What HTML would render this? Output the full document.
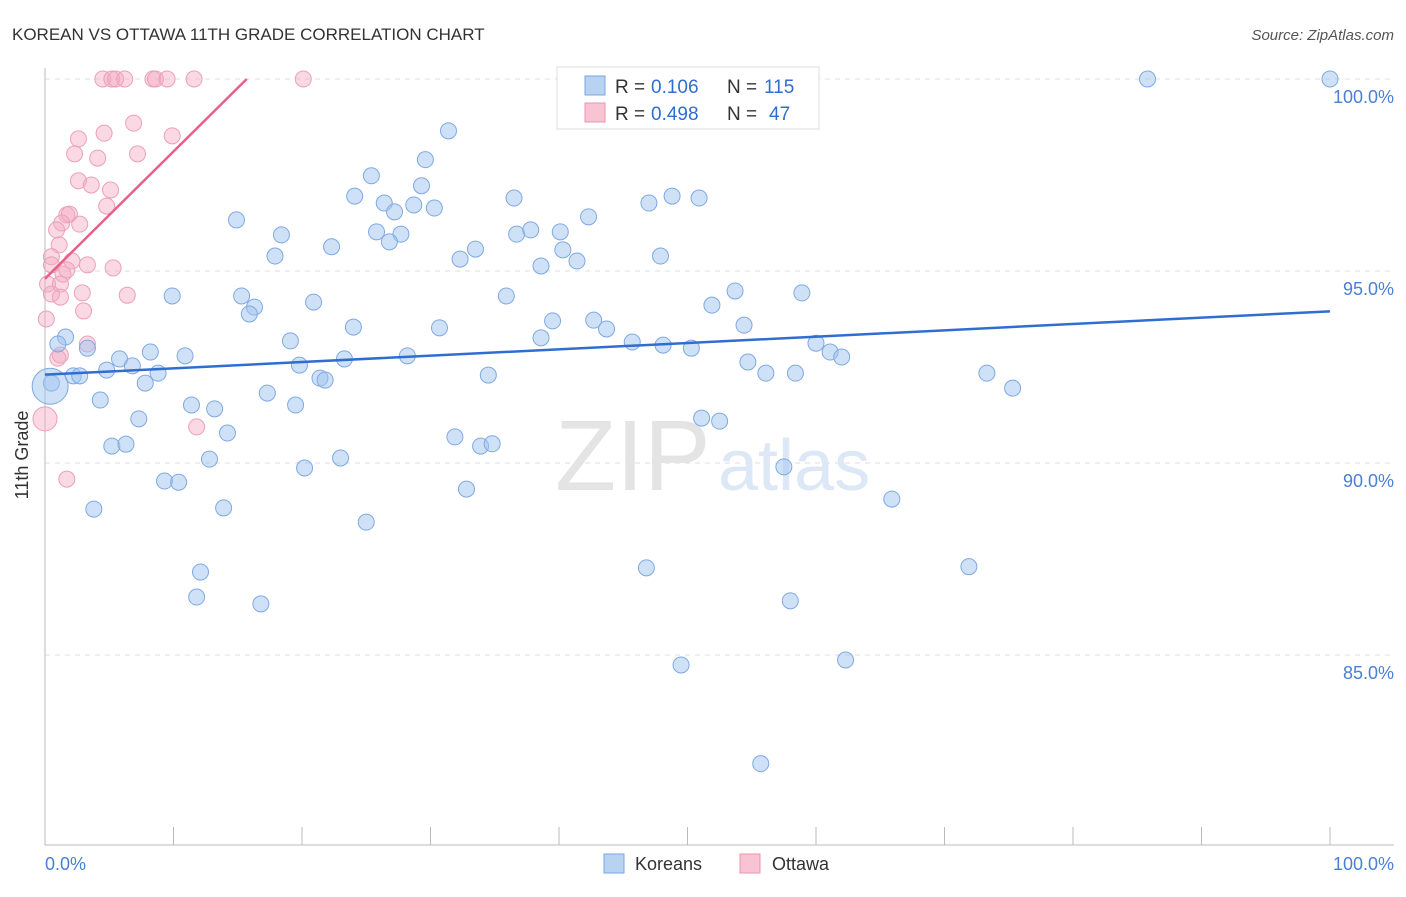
<!DOCTYPE html>
<html><head><meta charset="utf-8"><style>
body{margin:0;background:#fff;font-family:"Liberation Sans",sans-serif}
svg text{font-family:"Liberation Sans",sans-serif}
</style></head><body>
<svg width="1406" height="892" viewBox="0 0 1406 892">
<text x="12" y="40" font-size="17" fill="#333">KOREAN VS OTTAWA 11TH GRADE CORRELATION CHART</text>
<text x="1394" y="40" font-size="15" fill="#555" font-style="italic" text-anchor="end">Source: ZipAtlas.com</text>
<g id="grid"></g>
<text x="555" y="490" font-size="100" fill="#e4e4e4" font-family="Liberation Serif">ZIP</text>
<text x="718" y="490" font-size="72" fill="#dde8f6">atlas</text>
<g id="pts"></g>
<g id="lines"></g>
<text x="28" y="455" font-size="18" fill="#333" transform="rotate(-90 28 455)" text-anchor="middle">11th Grade</text>
<text x="45" y="870" font-size="18" fill="#4a7fd6">0.0%</text>
<text x="1394" y="870" font-size="18" fill="#4a7fd6" text-anchor="end">100.0%</text>
<g>
<rect x="557" y="67" width="262" height="62" fill="#fff" stroke="#ddd"/>
<rect x="585" y="76" width="20" height="19" fill="#b8d2f2" stroke="#7aa6e0"/>
<rect x="585" y="103" width="20" height="19" fill="#f8c3d2" stroke="#eb93ad"/>
<text y="93" font-size="19" fill="#333"><tspan x="615">R =</tspan><tspan x="651" fill="#2f6ed0">0.106</tspan><tspan x="727">N =</tspan><tspan x="764" fill="#2f6ed0">115</tspan></text>
<text y="120" font-size="19" fill="#333"><tspan x="615">R =</tspan><tspan x="651" fill="#2f6ed0">0.498</tspan><tspan x="727">N =</tspan><tspan x="769" fill="#2f6ed0">47</tspan></text>
</g>
<g>
<rect x="604" y="854" width="20" height="19" fill="#b8d2f2" stroke="#7aa6e0"/>
<text x="635" y="870" font-size="18" fill="#333">Koreans</text>
<rect x="740" y="854" width="20" height="19" fill="#f8c3d2" stroke="#eb93ad"/>
<text x="772" y="870" font-size="18" fill="#333">Ottawa</text>
</g>
</svg>
<script>
const yTicks=[100,95,90,85];
const xTickCount=10;
const blueX=[40.9,85.8,100,31.4,29.6,25.4,29.3,24.1,36.5,47,48.8,50.9,26.4,28.7,14.9,30.3,27.2,42.3,18.4,25.8,27.7,36.7,37.8,40.1,26.8,22.3,40.3,17.9,32.3,33.5,41.4,47.9,38.6,9.9,15.3,20.9,35.9,16.3,51.9,53.7,58.9,15.9,24,30.7,39.5,42.7,43.7,54.4,38.6,45.7,48.1,50.3,60,19.1,1.6,1,3.3,8.2,10.9,5.8,6.8,4.8,19.8,23.3,28.2,61.1,62,54.7,56.1,58.4,8.8,2.2,2.7,7.8,21.4,21.8,34.5,73.3,75.3,0.5,17.3,4.3,11.4,19.5,13.2,7.3,51.1,52.5,14.2,31.9,33.9,34.8,5.2,6.3,12.8,23,20.2,57.5,9.3,10.4,32.8,65.9,3.8,13.9,25,12.1,46.8,71.9,11.8,16.8,58,49.5,62.3,55.7,0.4];
const blueY=[100,100,100,98.65,97.9,97.48,97.22,96.95,96.9,96.77,96.95,96.9,96.77,96.72,96.33,96.64,96.54,96.41,95.94,96.02,95.96,95.96,96.07,96.02,95.76,95.63,95.55,95.39,95.31,95.57,95.26,95.39,95.13,94.35,94.35,94.19,94.35,94.06,94.11,94.48,94.43,93.88,93.54,93.52,93.7,93.72,93.49,93.59,93.26,93.15,93.07,92.99,93.12,93.18,93.28,93.1,92.99,92.89,92.79,92.71,92.53,92.42,92.55,92.71,92.79,92.89,92.76,92.63,92.34,92.34,92.34,92.27,92.27,92.08,92.21,92.16,92.29,92.34,91.95,92.08,91.82,91.64,91.51,91.51,91.41,91.15,91.17,91.09,90.78,90.68,90.44,90.5,90.44,90.49,90.1,90.13,89.87,89.9,89.53,89.5,89.32,89.06,88.8,88.83,88.46,87.16,87.27,87.3,86.51,86.33,86.41,84.74,84.87,82.17,92.0];
const pinkX=[4.5,5.2,5.5,6.2,8.4,8.6,9.5,11.6,20.1,6.9,4.6,2.6,9.9,2.3,4.1,7.2,2.6,3.6,5.1,4.8,1.7,1.9,2.7,1.3,0.9,1.1,0.5,0.5,2.1,3.3,5.3,1.4,1.7,0.2,1.2,2.9,0.5,1.2,6.4,3,0.1,3.3,1.2,1,11.8,1.7,0];
const pinkY=[100,100,100,100,100,100,100,100,100,98.85,98.59,98.44,98.52,98.05,97.94,98.05,97.35,97.24,97.11,96.69,96.46,96.48,96.22,96.25,96.07,95.68,95.37,95.16,95.26,95.16,95.08,94.92,95.03,94.66,94.66,94.43,94.4,94.32,94.37,93.96,93.75,93.1,92.81,92.73,90.94,89.58,91.15];
const blueSize=[];blueSize[blueX.length-1]=18;
const blueTrend=[92.3,93.95];
const pinkTrend=[94.8,100];const pinkTrendEndX=15.7;
const X=v=>45+v*12.85, Y=v=>79+(100-v)*38.4;
const ns='http://www.w3.org/2000/svg';
function mk(t,a,p){const e=document.createElementNS(ns,t);for(const k in a)e.setAttribute(k,a[k]);p.appendChild(e);return e;}
const grid=document.getElementById('grid');
yTicks.forEach((t,i)=>{
 const l=mk('line',{x1:45,x2:1394,y1:Y(t),y2:Y(t),stroke:'#ddd','stroke-dasharray':'5,5'},grid);
 
 
 const tx=mk('text',{x:1394,y:Y(t)+24,'font-size':18,fill:'#4a7fd6','text-anchor':'end'},grid);
 tx.textContent=t.toFixed(1)+'%';
 
 
});
const ax=mk('line',{x1:45,x2:45,y1:68,y2:845,stroke:'#bbb'},grid);


const bx=mk('line',{x1:45,x2:1394,y1:845,y2:845,stroke:'#bbb'},grid);


for(let i=0;i<=xTickCount;i++){
 const t=mk('line',{x1:X(i*10),x2:X(i*10),y1:827,y2:845,stroke:'#bbb'},grid);
 
 
}
const pts=document.getElementById('pts');
pinkX.forEach((v,i)=>{
 const c=mk('circle',{cx:X(v),cy:Y(pinkY[i]),r:i==pinkX.length-1?12:8,fill:'rgba(245,170,195,0.45)',stroke:'#eca0b8','stroke-width':1},pts);
 
 
});
blueX.forEach((v,i)=>{
 const c=mk('circle',{cx:X(v),cy:Y(blueY[i]),r:blueSize[i]||8,fill:'rgba(160,195,240,0.5)',stroke:'#7fa9e2','stroke-width':1},pts);
 
 
});
const lines=document.getElementById('lines');
const bl=mk('line',{x1:X(0),y1:Y(blueTrend[0]),x2:X(100),y2:Y(blueTrend[1]),stroke:'#2f6ed0','stroke-width':2.5},lines);


const pl=mk('line',{x1:X(0),y1:Y(pinkTrend[0]),x2:X(pinkTrendEndX),y2:Y(pinkTrend[1]),stroke:'#e8608a','stroke-width':2.5},lines);


</script>
</body></html>
